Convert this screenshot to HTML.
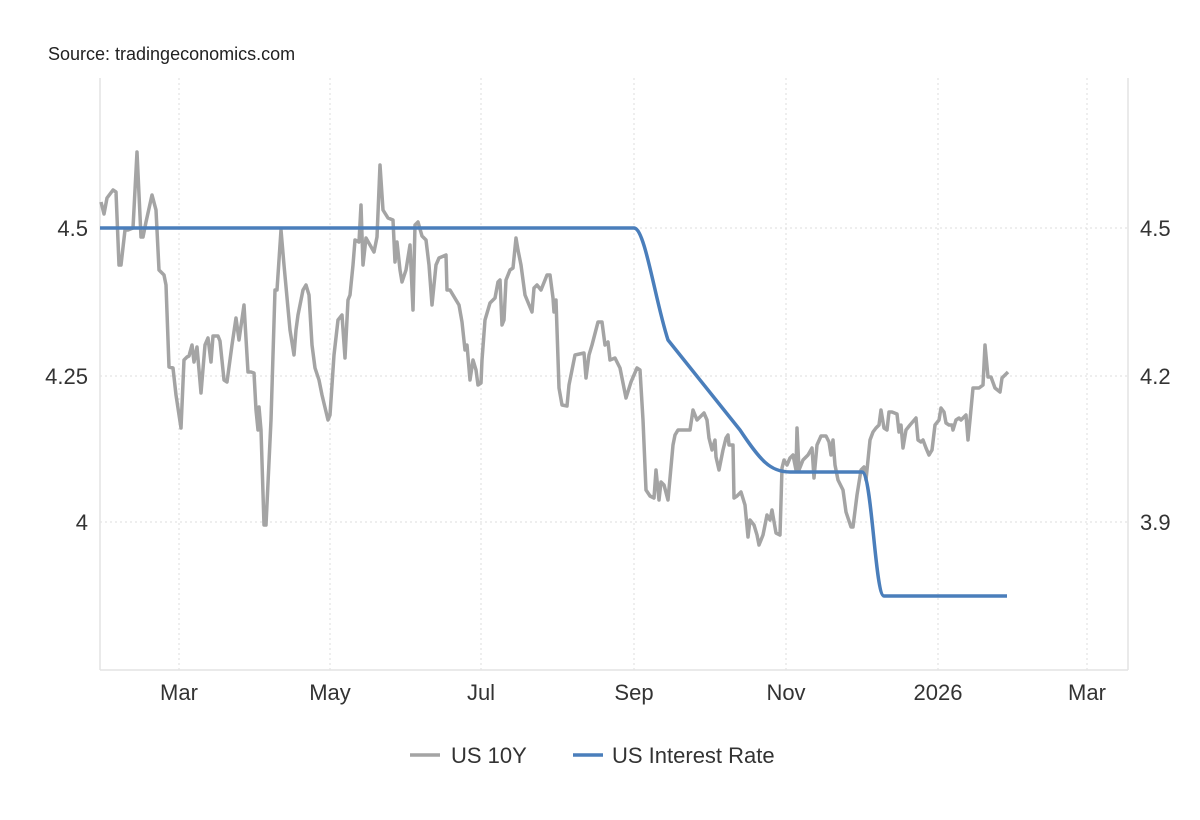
<!DOCTYPE html>
<html><head><meta charset="utf-8"><style>
body{margin:0;background:#fff;}
svg{display:block;font-family:"Liberation Sans",Arial,sans-serif;}
</style></head><body>
<svg width="1200" height="820" viewBox="0 0 1200 820" xmlns="http://www.w3.org/2000/svg">
<rect width="1200" height="820" fill="#fff"/>
<text x="48" y="60" font-size="18" fill="#222">Source: tradingeconomics.com</text>
<g stroke="#dcdcdc" stroke-width="1" stroke-dasharray="2,3">
<line x1="179" y1="78" x2="179" y2="670"/><line x1="330" y1="78" x2="330" y2="670"/>
<line x1="481" y1="78" x2="481" y2="670"/><line x1="634" y1="78" x2="634" y2="670"/>
<line x1="786" y1="78" x2="786" y2="670"/><line x1="938" y1="78" x2="938" y2="670"/>
<line x1="1087" y1="78" x2="1087" y2="670"/>
<line x1="100" y1="228" x2="1128" y2="228"/><line x1="100" y1="376" x2="1128" y2="376"/>
<line x1="100" y1="522" x2="1128" y2="522"/>
</g>
<g stroke="#e3e3e3" stroke-width="1.5">
<line x1="100" y1="78" x2="100" y2="670"/><line x1="1128" y1="78" x2="1128" y2="670"/>
<line x1="100" y1="670" x2="1128" y2="670"/>
</g>
<g font-size="22" fill="#333">
<text x="88" y="236" text-anchor="end">4.5</text>
<text x="88" y="384" text-anchor="end">4.25</text>
<text x="88" y="530" text-anchor="end">4</text>
<text x="1140" y="236">4.5</text>
<text x="1140" y="384">4.2</text>
<text x="1140" y="530">3.9</text>
<g text-anchor="middle">
<text x="179" y="700">Mar</text><text x="330" y="700">May</text><text x="481" y="700">Jul</text>
<text x="634" y="700">Sep</text><text x="786" y="700">Nov</text><text x="938" y="700">2026</text>
<text x="1087" y="700">Mar</text></g>
</g>
<polyline fill="none" stroke="#a4a4a4" stroke-width="3.5" stroke-linejoin="round" points="101,202 104,214 107,198 113,190 116,192 119,265 121,265 125,230 128,230 133,228 137,152 141,237 143,237 146,222 152,195 156,210 159,270 164,275 166,285 169,367 173,368 176,395 181,428 184,360 187,357 189,356 192,345 194,362 197,347 201,393 205,345 208,338 211,362 213,336 218,336 220,341 224,380 227,382 232,345 236,318 239,340 244,305 248,372 251,372 254,373 256,410 258,430 259,407 261,430 264,525 266,525 271,420 275,290 277,290 281,230 284,265 290,330 294,355 296,330 298,315 303,290 306,285 309,295 312,345 315,368 319,380 322,395 328,420 330,415 334,355 338,320 342,315 345,358 348,300 350,295 353,265 355,240 359,242 361,205 363,265 366,238 370,245 374,252 377,237 380,165 383,210 388,218 393,220 395,262 397,242 400,270 402,282 406,270 410,245 413,310 415,225 418,222 422,236 426,240 429,265 432,305 436,265 439,258 446,255 447,290 450,290 453,295 456,300 459,305 462,322 465,350 467,345 470,380 473,360 476,370 478,385 481,383 482,360 485,320 490,303 495,298 498,282 500,280 502,325 504,320 506,280 510,270 513,268 516,238 518,250 521,265 525,295 532,312 534,288 537,285 541,290 547,275 550,275 553,298 554,312 556,300 559,388 562,405 567,406 569,385 575,355 584,353 586,378 589,355 592,345 598,322 602,322 605,345 608,342 610,360 615,358 620,368 626,398 631,382 637,368 640,370 643,420 646,490 650,496 654,498 656,470 659,500 661,482 664,485 668,500 673,445 675,435 678,430 681,430 690,430 693,410 697,420 700,417 704,413 707,420 709,438 712,450 715,440 716,457 719,470 723,450 726,438 728,435 729,445 733,445 734,498 737,496 741,492 745,505 748,537 750,520 754,525 757,535 759,545 763,535 767,515 770,520 772,510 776,533 780,535 782,468 784,460 787,465 790,458 793,455 796,470 797,428 799,470 803,460 808,455 812,448 814,478 817,445 821,436 826,436 829,442 831,455 833,440 835,465 838,480 843,490 846,512 851,527 853,527 857,495 861,470 864,467 866,480 870,440 873,432 876,428 879,425 881,410 884,428 887,430 889,412 892,412 897,414 899,432 901,425 903,448 906,430 910,425 916,418 918,440 921,442 923,440 926,448 929,455 932,450 935,425 939,420 941,408 944,412 946,423 949,425 952,425 953,430 956,420 959,418 961,420 966,415 968,440 970,420 973,388 979,388 983,385 985,345 988,377 991,377 995,388 1000,392 1002,378 1005,375 1008,372"/>
<path fill="none" stroke="#4a7ebb" stroke-width="3.5" stroke-linejoin="round" d="M100 228 H634 C645 228 655 300 668 340 L740 430 C760 460 770 472 790 472 H862 C872 472 875 596 884 596 H1007"/>
<line x1="410" y1="755" x2="440" y2="755" stroke="#a4a4a4" stroke-width="3.5"/>
<text x="451" y="763" font-size="22" fill="#333">US 10Y</text>
<line x1="573" y1="755" x2="603" y2="755" stroke="#4a7ebb" stroke-width="3.5"/>
<text x="612" y="763" font-size="22" fill="#333">US Interest Rate</text>
</svg>
</body></html>
